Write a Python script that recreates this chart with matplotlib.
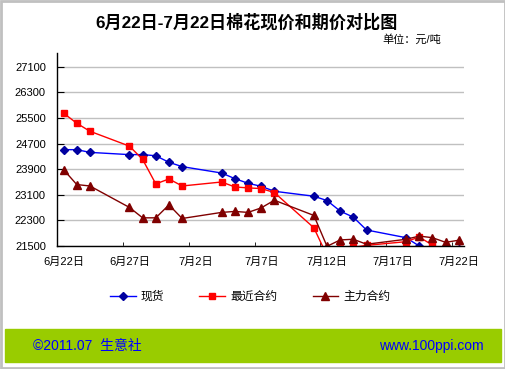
#!/usr/bin/env python3
'''Cotton spot vs futures price chart, 2011-06-22 to 2011-07-22'''
import datetime as dt
import matplotlib
matplotlib.use('Agg')
import matplotlib.pyplot as plt
from matplotlib.patches import Rectangle
from matplotlib.lines import Line2D

plt.rcParams['font.family'] = ['Liberation Sans', 'Noto Sans CJK SC', 'DejaVu Sans']

# trading days
dates = ['06-22', '06-23', '06-24', '06-27', '06-28', '06-29', '06-30', '07-01',
         '07-04', '07-05', '07-06', '07-07', '07-08', '07-11', '07-12', '07-13',
         '07-14', '07-15', '07-18', '07-19', '07-20', '07-21', '07-22']
spot = [24510, 24510, 24425, 24355, 24355, 24320, 24115, 23980,
        23780, 23605, 23460, 23365, 23210, 23055, 22920, 22590,
        22400, 22000, 21760, 21500, 21400, 21400, 21400]
near = [25650, 25335, 25085, 24620, 24205, 23440, 23595, 23375,
        23500, 23345, 23315, 23295, 23170, 22070, 21200, 21430,
        21460, 21520, 21635, 21780, 21530, 21350, 21400]
main = [23885, 23420, 23375, 22705, 22380, 22380, 22785, 22360,
        22550, 22580, 22550, 22690, 22930, 22455, 21490, 21690,
        21710, 21555, 21710, 21810, 21760, 21615, 21680]
series_names = ['现货', '最近合约', '主力合约']
xtick_labels = ['6月22日', '6月27日', '7月2日', '7月7日', '7月12日', '7月17日', '7月22日']
yticks = [21500, 22300, 23100, 23900, 24700, 25500, 26300, 27100]

start = dt.date(2011, 6, 22)
days = [(dt.date(2011, int(d[:2]), int(d[3:])) - start).days for d in dates]

fig = plt.figure(figsize=(5.06, 3.69), dpi=100)
ax = fig.add_axes([57 / 506, 1 - 246 / 369, 407 / 506, 193 / 369])

styles = [
    dict(color='#0000ff', marker='D', markersize=4.3, mfc='#0000a0', mec='#0000a0'),
    dict(color='#ff0000', marker='s', markersize=5, mfc='#ff0000', mec='#ff0000'),
    dict(color='#800000', marker='^', markersize=6, mfc='#800000', mec='#800000'),
]
handles = []
for vals, name, st in zip([spot, near, main], series_names, styles):
    ax.plot(days, vals, lw=1, label=name, **st)
    handles.append(Line2D([], [], lw=1, **st))

ax.set_xlim(-0.5, 30.4)
ax.set_ylim(21500, 27530)
ax.set_yticks(yticks)
ax.set_yticklabels([str(v) for v in yticks], fontsize=8)
ax.set_xticks(range(0, 31, 5))
ax.set_xticklabels(xtick_labels, fontsize=8)
ax.set_xticks([4.5 + 5 * i for i in range(6)], minor=True)
ax.tick_params(axis='x', which='major', length=0, pad=8)
ax.tick_params(axis='x', which='minor', direction='in', length=3, color='black')
ax.tick_params(axis='y', direction='in', length=5, color='black', pad=8)
ax.grid(axis='y', color='#c0c0c0', lw=1)
ax.set_axisbelow(True)
for side in ('top', 'right'):
    ax.spines[side].set_visible(False)
for side in ('left', 'bottom'):
    ax.spines[side].set_color('black')
    ax.spines[side].set_linewidth(1)
    ax.spines[side].set_zorder(5)

fig.text(247 / 506, 1 - 22 / 369, '6月22日-7月22日棉花现价和期价对比图', ha='center', va='center',
         fontsize=12.3, fontweight='bold')
fig.text(441 / 506, 1 - 39 / 369, '单位：元/吨', ha='right', va='center', fontsize=8)

fig.legend(handles, series_names, loc='center', bbox_to_anchor=(250 / 506, 1 - 297 / 369),
           ncol=3, frameon=False, fontsize=8.5, handlelength=2.2, handletextpad=0.4,
           columnspacing=3.0)

# footer band
fig.patches.append(Rectangle((5 / 506, 1 - 362 / 369), 496 / 506, 33 / 369,
                             transform=fig.transFigure, color='#99cc00', zorder=0))
fig.text(33 / 506, 1 - 346 / 369, '©2011.07  生意社', color='#0000ff', fontsize=10, va='center')
fig.text(484 / 506, 1 - 346 / 369, 'www.100ppi.com', color='#0000ff', fontsize=10,
         va='center', ha='right')
# outer frame
fig.patches.append(Rectangle((0.002, 0.003), 0.996, 0.994, transform=fig.transFigure,
                             fill=False, ec='#c0c0c0', lw=2))

fig.savefig('out.png', dpi=100)
